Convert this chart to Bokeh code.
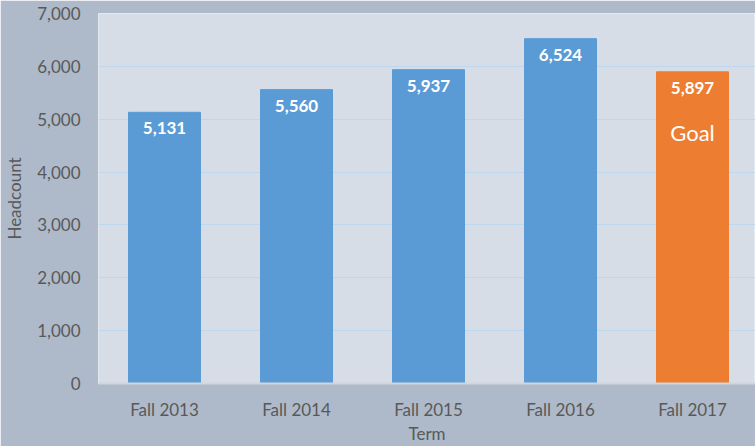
from bokeh.plotting import figure
from bokeh.models import ColumnDataSource, Range1d, FixedTicker, NumeralTickFormatter
from bokeh.core.properties import value
from bokeh.embed import file_html
from bokeh.resources import INLINE

terms = ["Fall 2013", "Fall 2014", "Fall 2015", "Fall 2016", "Fall 2017"]
headcount = [5131, 5560, 5937, 6524, 5897]
bar_colors = ["#5b9bd5", "#5b9bd5", "#5b9bd5", "#5b9bd5", "#ed7d31"]
notes = ["", "", "", "", "Goal"]
y_ticks = [0, 1000, 2000, 3000, 4000, 5000, 6000, 7000]

pos = [i + 0.5 for i in range(len(terms))]
src = ColumnDataSource(dict(
    x=pos,
    y=headcount,
    color=bar_colors,
    label=[f"{v:,}" for v in headcount],
    note=notes,
))

FONT = "Lato"
p = figure(width=755, height=446, output_backend="svg", toolbar_location=None,
           x_range=Range1d(0, 657 / 132), y_range=Range1d(0, 7000),
           min_border_left=98, min_border_right=0, min_border_top=13, min_border_bottom=61)
p.background_fill_color = "#d6dde6"
p.border_fill_color = "#aeb9c9"
p.outline_line_color = "#e4eaf1"
p.outline_line_width = 1

p.vbar(x="x", top="y", width=72 / 132, color="color", source=src)

p.text(x="x", y="y", text="label", source=src, text_align="center", text_baseline="middle",
       y_offset=16, text_color="white", text_font=value(FONT), text_font_style="bold",
       text_font_size="17px")
p.text(x="x", y="y", text="note", source=src, text_align="center", text_baseline="middle",
       y_offset=61, text_color="white", text_font=value(FONT), text_font_size="22px")

p.xgrid.visible = False
p.ygrid.grid_line_color = "#bdd7ee"
p.ygrid.grid_line_width = 1
p.ygrid.ticker = FixedTicker(ticks=y_ticks)

p.yaxis.ticker = FixedTicker(ticks=y_ticks)
p.yaxis.formatter = NumeralTickFormatter(format="0,0")
p.yaxis.axis_line_color = None
p.yaxis.major_tick_line_color = None
p.yaxis.minor_tick_line_color = None
p.yaxis.major_tick_out = 0
p.yaxis.minor_tick_out = 0
p.yaxis.major_label_standoff = 18
p.yaxis.axis_label = "Headcount"
p.yaxis.axis_label_standoff = 9

p.xaxis.ticker = FixedTicker(ticks=pos)
p.xaxis.major_label_overrides = {x: t for x, t in zip(pos, terms)}
p.xaxis.axis_line_color = "#d2d6dc"
p.xaxis.axis_line_width = 2
p.xaxis.major_tick_line_color = None
p.xaxis.minor_tick_line_color = None
p.xaxis.major_tick_out = 0
p.xaxis.minor_tick_out = 0
p.xaxis.major_label_standoff = 15
p.xaxis.axis_label = "Term"
p.xaxis.axis_label_standoff = 0

for ax in (p.xaxis, p.yaxis):
    ax.major_label_text_font = FONT
    ax.major_label_text_font_size = "17px"
    ax.major_label_text_color = "#595959"
    ax.axis_label_text_font = FONT
    ax.axis_label_text_font_size = "17px"
    ax.axis_label_text_font_style = "normal"
    ax.axis_label_text_color = "#595959"

open("out.html", "w").write(file_html(p, INLINE))
